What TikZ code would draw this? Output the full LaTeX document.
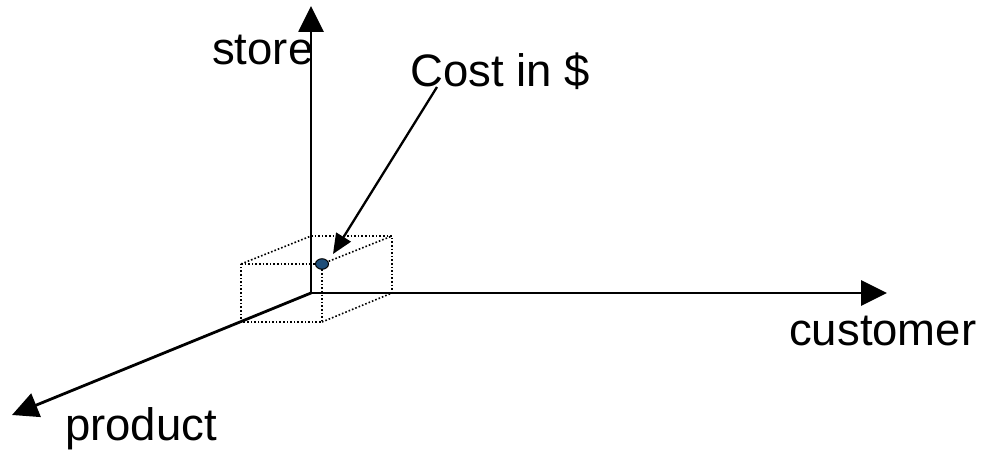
\documentclass[tikz,border=0pt]{standalone}
\usepackage{fontspec}
\setmainfont{Liberation Sans}
\usetikzlibrary{arrows.meta,shapes.geometric}
\definecolor{dotblue}{RGB}{31,78,121}
\begin{document}
\begin{tikzpicture}[x=1pt,y=-1pt,
  axis/.style={line width=2.8pt,-{Triangle[length=26pt,width=25pt]}},
  pointer/.style={line width=2.3pt,-{Triangle[length=20pt,width=17pt]}},
  boxline/.style={line width=1.6pt,dotted},
  lbl/.style={anchor=base west,inner sep=0pt,font=\fontsize{45.5}{54}\selectfont}]
\useasboundingbox[fill=white] (0,0) rectangle (988,454);
% box corners
\coordinate (o) at (311,293);
\coordinate (f1) at (241,264);
\coordinate (f2) at (322,264);
\coordinate (f3) at (322,322);
\coordinate (f4) at (241,322);
\coordinate (b1) at (311,236);
\coordinate (b2) at (392,236);
\coordinate (b3) at (392,293);
\draw[boxline] (f1) -- (f2) -- (f3) -- (f4) -- cycle;
\draw[boxline] (b1) -- (b2) -- (b3);
\draw[boxline] (f1) -- (b1);
\draw[boxline] (f2) -- (b2);
\draw[boxline] (f3) -- (b3);
% axes
\coordinate (ytip) at (311,6);
\coordinate (xtip) at (887,293);
\coordinate (ztip) at (12,415);
\draw[axis] (o) -- (ytip);
\draw[axis] (o) -- (xtip);
\draw[axis] (o) -- (ztip);
% point
\node[draw=black,fill=dotblue,ellipse,minimum width=13pt,minimum height=10.5pt,inner sep=0pt,line width=1pt] (pt) at (f2) {};
% labels
\node[lbl] (store) at (212,65) {store};
\node[lbl] (cost) at (410,87) {Cost in \$};
\node[lbl] (cust) at (789,345) {customer};
\node[lbl] (prod) at (65,440) {product};
\coordinate (cstart) at (437,87);
\coordinate (ctip) at (333,254);
\draw[pointer] (cstart) -- (ctip);
\end{tikzpicture}
\end{document}
